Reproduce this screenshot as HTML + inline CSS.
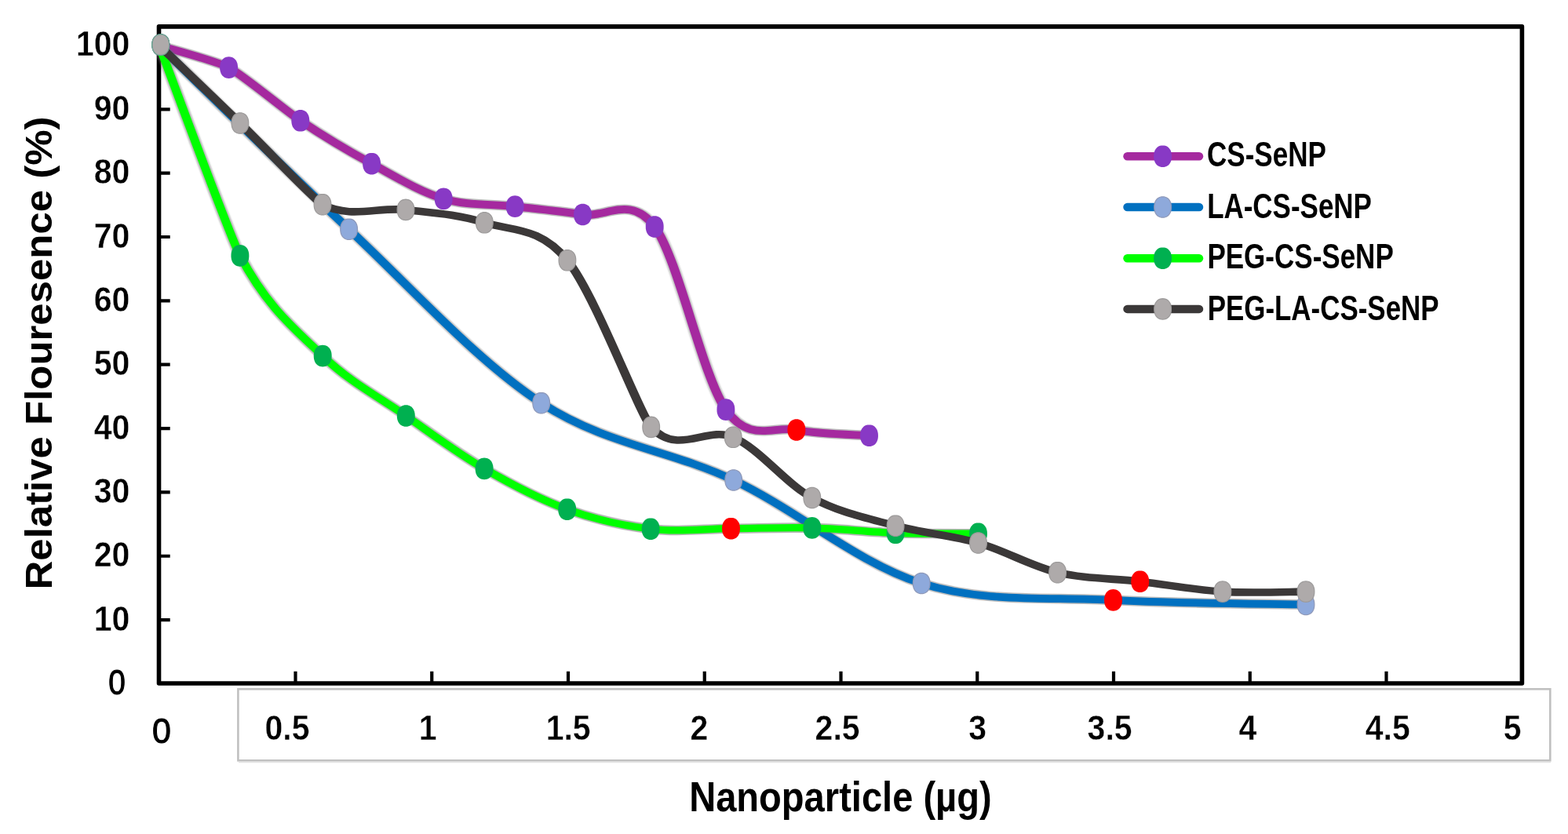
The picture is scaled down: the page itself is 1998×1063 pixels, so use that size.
<!DOCTYPE html><html><head><meta charset="utf-8"><style>html,body{margin:0;padding:0;background:#fff;overflow:hidden}svg{display:block}text{font-family:"Liberation Sans",sans-serif;font-size:100px;fill:#000}</style></head><body>
<svg width="1998" height="1063" viewBox="0 0 1998 1063">
<rect width="1998" height="1063" fill="#fff"/>
<rect x="303.4" y="878.3" width="1671.9" height="91" fill="none" stroke="#c0c0c0" stroke-width="2.6"/>
<line x1="304" y1="971.6" x2="1976" y2="971.6" stroke="#e2e2e2" stroke-width="1.5"/>
<path d="M202.5 790.10H216.7 M202.5 708.75H216.7 M202.5 627.40H216.7 M202.5 546.05H216.7 M202.5 464.70H216.7 M202.5 383.35H216.7 M202.5 302.00H216.7 M202.5 220.65H216.7 M202.5 139.30H216.7 M202.5 57.95H216.7 M376.50 871V855.8 M550.25 871V855.8 M724.00 871V855.8 M897.75 871V855.8 M1071.50 871V855.8 M1245.25 871V855.8 M1419.00 871V855.8 M1592.75 871V855.8 M1766.50 871V855.8" stroke="#000" stroke-width="4.2" fill="none"/>
<rect x="202.5" y="33.9" width="1736.9" height="837.1" fill="none" stroke="#000" stroke-width="5.6" stroke-linejoin="round"/>
<defs><filter id="hb" x="-5%" y="-5%" width="110%" height="110%"><feGaussianBlur stdDeviation="0.9"/></filter><path id="mk0" d="M11.45 0.00 L11.36 2.17 L11.09 4.04 L10.65 5.76 L10.05 7.35 L9.28 8.79 L8.36 10.07 L7.29 11.18 L6.10 12.11 L4.78 12.84 L3.35 13.37 L1.80 13.69 L0.00 13.80 L-1.80 13.69 L-3.35 13.37 L-4.78 12.84 L-6.10 12.11 L-7.29 11.18 L-8.36 10.07 L-9.28 8.79 L-10.05 7.35 L-10.65 5.76 L-11.09 4.04 L-11.36 2.17 L-11.45 0.00 L-11.36 -2.17 L-11.09 -4.04 L-10.65 -5.76 L-10.05 -7.35 L-9.28 -8.79 L-8.36 -10.07 L-7.29 -11.18 L-6.10 -12.11 L-4.78 -12.84 L-3.35 -13.37 L-1.80 -13.69 L-0.00 -13.80 L1.80 -13.69 L3.35 -13.37 L4.78 -12.84 L6.10 -12.11 L7.29 -11.18 L8.36 -10.07 L9.28 -8.79 L10.05 -7.35 L10.65 -5.76 L11.09 -4.04 L11.36 -2.17Z"/><path id="mk1" d="M10.85 0.00 L10.77 2.07 L10.51 3.86 L10.10 5.51 L9.52 7.03 L8.79 8.41 L7.92 9.63 L6.91 10.69 L5.78 11.58 L4.53 12.28 L3.18 12.79 L1.70 13.10 L0.00 13.20 L-1.70 13.10 L-3.18 12.79 L-4.53 12.28 L-5.78 11.58 L-6.91 10.69 L-7.92 9.63 L-8.79 8.41 L-9.52 7.03 L-10.10 5.51 L-10.51 3.86 L-10.77 2.07 L-10.85 0.00 L-10.77 -2.07 L-10.51 -3.86 L-10.10 -5.51 L-9.52 -7.03 L-8.79 -8.41 L-7.92 -9.63 L-6.91 -10.69 L-5.78 -11.58 L-4.53 -12.28 L-3.18 -12.79 L-1.70 -13.10 L-0.00 -13.20 L1.70 -13.10 L3.18 -12.79 L4.53 -12.28 L5.78 -11.58 L6.91 -10.69 L7.92 -9.63 L8.79 -8.41 L9.52 -7.03 L10.10 -5.51 L10.51 -3.86 L10.77 -2.07Z"/></defs>
<g transform="matrix(1 0 0 0.85 0 0)">
<path d="M202.90 68.24 C217.68 73.75 276.61 91.90 291.60 101.29 C309.59 112.56 364.60 166.52 382.80 180.94 C407.07 200.17 443.20 226.00 473.60 245.53 C504.00 265.06 534.77 287.45 565.20 298.12 C595.63 308.78 626.65 305.59 656.20 309.53 C685.75 313.47 712.83 316.69 742.50 321.76 C772.17 326.84 803.80 291.25 834.20 340.00 C864.60 388.75 894.78 563.45 924.90 614.24 C955.02 665.02 984.47 638.22 1014.90 644.71 C1045.33 651.20 1092.07 651.76 1107.50 653.18" fill="none" stroke="#6a6a6a" stroke-opacity="0.45" stroke-width="15.0" stroke-linecap="round" stroke-linejoin="round" filter="url(#hb)"/>
<path d="M202.90 68.24 C217.68 73.75 276.61 91.90 291.60 101.29 C309.59 112.56 364.60 166.52 382.80 180.94 C407.07 200.17 443.20 226.00 473.60 245.53 C504.00 265.06 534.77 287.45 565.20 298.12 C595.63 308.78 626.65 305.59 656.20 309.53 C685.75 313.47 712.83 316.69 742.50 321.76 C772.17 326.84 803.80 291.25 834.20 340.00 C864.60 388.75 894.78 563.45 924.90 614.24 C955.02 665.02 984.47 638.22 1014.90 644.71 C1045.33 651.20 1092.07 651.76 1107.50 653.18" fill="none" stroke="#A5299F" stroke-width="11.5" stroke-linecap="round" stroke-linejoin="round"/>
</g>
<use href="#mk0" x="204.80" y="57.10" fill="#8839C5"/>
<use href="#mk0" x="291.60" y="86.10" fill="#8839C5"/>
<use href="#mk0" x="382.80" y="153.80" fill="#8839C5"/>
<use href="#mk0" x="473.60" y="208.70" fill="#8839C5"/>
<use href="#mk0" x="565.20" y="253.40" fill="#8839C5"/>
<use href="#mk0" x="656.20" y="263.10" fill="#8839C5"/>
<use href="#mk0" x="742.50" y="273.50" fill="#8839C5"/>
<use href="#mk0" x="834.20" y="289.00" fill="#8839C5"/>
<use href="#mk0" x="924.90" y="522.10" fill="#8839C5"/>
<use href="#mk0" x="1014.90" y="548.00" fill="#FF0000"/>
<use href="#mk0" x="1107.50" y="555.20" fill="#8839C5"/>
<g transform="matrix(1 0 0 0.85 0 0)">
<path d="M202.90 68.24 C243.18 114.16 363.47 254.41 444.60 343.76 C525.73 433.12 608.02 541.65 689.70 604.35 C771.38 667.06 853.95 674.94 934.70 720.00 C1015.45 765.06 1093.57 844.73 1174.20 874.71 C1254.83 904.69 1336.87 894.59 1418.50 899.88 C1500.13 905.18 1623.08 905.37 1664.00 906.47" fill="none" stroke="#6a6a6a" stroke-opacity="0.45" stroke-width="14.9" stroke-linecap="round" stroke-linejoin="round" filter="url(#hb)"/>
<path d="M202.90 68.24 C243.18 114.16 363.47 254.41 444.60 343.76 C525.73 433.12 608.02 541.65 689.70 604.35 C771.38 667.06 853.95 674.94 934.70 720.00 C1015.45 765.06 1093.57 844.73 1174.20 874.71 C1254.83 904.69 1336.87 894.59 1418.50 899.88 C1500.13 905.18 1623.08 905.37 1664.00 906.47" fill="none" stroke="#0070C0" stroke-width="11.4" stroke-linecap="round" stroke-linejoin="round"/>
</g>
<use href="#mk1" x="204.80" y="57.10" fill="#8EA9DB" stroke="#8E98B8" stroke-width="1.2"/>
<use href="#mk1" x="444.60" y="292.20" fill="#8EA9DB" stroke="#8E98B8" stroke-width="1.2"/>
<use href="#mk1" x="689.70" y="513.70" fill="#8EA9DB" stroke="#8E98B8" stroke-width="1.2"/>
<use href="#mk1" x="934.70" y="612.00" fill="#8EA9DB" stroke="#8E98B8" stroke-width="1.2"/>
<use href="#mk1" x="1174.20" y="743.50" fill="#8EA9DB" stroke="#8E98B8" stroke-width="1.2"/>
<use href="#mk0" x="1418.50" y="764.90" fill="#FF0000"/>
<use href="#mk1" x="1664.00" y="770.50" fill="#8EA9DB" stroke="#8E98B8" stroke-width="1.2"/>
<g transform="matrix(1 0 0 0.85 0 0)">
<path d="M202.90 68.24 C220.07 120.76 292.01 352.38 305.90 383.41 C340.62 460.98 375.97 493.63 411.20 533.65 C446.43 573.67 482.98 595.33 517.30 623.53 C551.62 651.73 582.87 679.45 617.10 702.82 C651.33 726.20 687.37 748.71 722.70 763.76 C758.03 778.82 794.30 788.37 829.10 793.18 C863.90 797.98 897.22 792.84 931.50 792.59 C965.78 792.33 999.87 790.55 1034.80 791.65 C1069.73 792.75 1105.82 797.75 1141.10 799.18 C1176.38 800.61 1228.93 800.06 1246.50 800.24" fill="none" stroke="#6a6a6a" stroke-opacity="0.5" stroke-width="14.8" stroke-linecap="round" stroke-linejoin="round" filter="url(#hb)"/>
<path d="M202.90 68.24 C220.07 120.76 292.01 352.38 305.90 383.41 C340.62 460.98 375.97 493.63 411.20 533.65 C446.43 573.67 482.98 595.33 517.30 623.53 C551.62 651.73 582.87 679.45 617.10 702.82 C651.33 726.20 687.37 748.71 722.70 763.76 C758.03 778.82 794.30 788.37 829.10 793.18 C863.90 797.98 897.22 792.84 931.50 792.59 C965.78 792.33 999.87 790.55 1034.80 791.65 C1069.73 792.75 1105.82 797.75 1141.10 799.18 C1176.38 800.61 1228.93 800.06 1246.50 800.24" fill="none" stroke="#00FF00" stroke-width="10.8" stroke-linecap="round" stroke-linejoin="round"/>
</g>
<use href="#mk0" x="204.80" y="57.10" fill="#00B050"/>
<use href="#mk0" x="305.90" y="325.90" fill="#00B050"/>
<use href="#mk0" x="411.20" y="453.60" fill="#00B050"/>
<use href="#mk0" x="517.30" y="530.00" fill="#00B050"/>
<use href="#mk0" x="617.10" y="597.40" fill="#00B050"/>
<use href="#mk0" x="722.70" y="649.20" fill="#00B050"/>
<use href="#mk0" x="829.10" y="674.20" fill="#00B050"/>
<use href="#mk0" x="931.50" y="673.70" fill="#FF0000"/>
<use href="#mk0" x="1034.80" y="672.90" fill="#00B050"/>
<use href="#mk0" x="1141.10" y="679.30" fill="#00B050"/>
<use href="#mk0" x="1246.50" y="680.20" fill="#00B050"/>
<g transform="matrix(1 0 0 0.85 0 0)">
<path d="M202.90 68.24 C220.07 87.65 271.22 144.96 305.90 184.71 C340.58 224.45 400.44 300.21 411.00 306.71 C446.18 328.35 482.62 310.06 517.00 314.59 C551.38 319.12 582.98 321.25 617.30 333.88 C651.62 346.51 687.50 339.25 722.90 390.35 C758.30 441.45 815.61 622.78 829.70 640.47 C864.92 684.69 900.02 637.98 934.20 655.65 C968.38 673.31 1000.32 724.33 1034.80 746.47 C1069.28 768.61 1105.82 777.20 1141.10 788.47 C1176.38 799.75 1212.08 802.45 1246.50 814.12 C1280.92 825.78 1313.23 848.82 1347.60 858.47 C1381.97 868.12 1417.65 867.22 1452.70 872.00 C1487.75 876.78 1522.68 884.65 1557.90 887.18 C1593.12 889.71 1646.32 887.18 1664.00 887.18" fill="none" stroke="#3B3838" stroke-width="11.3" stroke-linecap="round" stroke-linejoin="round"/>
</g>
<use href="#mk1" x="204.80" y="57.10" fill="#AEAAAA" stroke="#7aa096" stroke-width="1.2"/>
<use href="#mk1" x="305.90" y="157.00" fill="#AEAAAA" stroke="#9C9A9A" stroke-width="1.2"/>
<use href="#mk1" x="411.00" y="260.70" fill="#AEAAAA" stroke="#9C9A9A" stroke-width="1.2"/>
<use href="#mk1" x="517.00" y="267.40" fill="#AEAAAA" stroke="#9C9A9A" stroke-width="1.2"/>
<use href="#mk1" x="617.30" y="283.80" fill="#AEAAAA" stroke="#9C9A9A" stroke-width="1.2"/>
<use href="#mk1" x="722.90" y="331.80" fill="#AEAAAA" stroke="#9C9A9A" stroke-width="1.2"/>
<use href="#mk1" x="829.70" y="544.40" fill="#AEAAAA" stroke="#9C9A9A" stroke-width="1.2"/>
<use href="#mk1" x="934.20" y="557.30" fill="#AEAAAA" stroke="#9C9A9A" stroke-width="1.2"/>
<use href="#mk1" x="1034.80" y="634.50" fill="#AEAAAA" stroke="#9C9A9A" stroke-width="1.2"/>
<use href="#mk1" x="1141.10" y="670.20" fill="#AEAAAA" stroke="#9C9A9A" stroke-width="1.2"/>
<use href="#mk1" x="1246.50" y="692.00" fill="#AEAAAA" stroke="#9C9A9A" stroke-width="1.2"/>
<use href="#mk1" x="1347.60" y="729.70" fill="#AEAAAA" stroke="#9C9A9A" stroke-width="1.2"/>
<use href="#mk0" x="1452.70" y="741.20" fill="#FF0000"/>
<use href="#mk1" x="1557.90" y="754.10" fill="#AEAAAA" stroke="#9C9A9A" stroke-width="1.2"/>
<use href="#mk1" x="1664.00" y="754.10" fill="#AEAAAA" stroke="#9C9A9A" stroke-width="1.2"/>
<text transform="matrix(0.41000 0 0 0.44100 165.34 803.61)" font-weight="bold" text-anchor="end" stroke="#fff" stroke-width="0.8">10</text>
<text transform="matrix(0.41000 0 0 0.44100 165.34 722.26)" font-weight="bold" text-anchor="end" stroke="#fff" stroke-width="0.8">20</text>
<text transform="matrix(0.41000 0 0 0.44100 165.34 640.91)" font-weight="bold" text-anchor="end" stroke="#fff" stroke-width="0.8">30</text>
<text transform="matrix(0.41000 0 0 0.44100 165.34 559.56)" font-weight="bold" text-anchor="end" stroke="#fff" stroke-width="0.8">40</text>
<text transform="matrix(0.41000 0 0 0.44100 165.34 478.21)" font-weight="bold" text-anchor="end" stroke="#fff" stroke-width="0.8">50</text>
<text transform="matrix(0.41000 0 0 0.44100 165.34 396.86)" font-weight="bold" text-anchor="end" stroke="#fff" stroke-width="0.8">60</text>
<text transform="matrix(0.41000 0 0 0.44100 165.34 315.51)" font-weight="bold" text-anchor="end" stroke="#fff" stroke-width="0.8">70</text>
<text transform="matrix(0.41000 0 0 0.44100 165.34 234.16)" font-weight="bold" text-anchor="end" stroke="#fff" stroke-width="0.8">80</text>
<text transform="matrix(0.41000 0 0 0.44100 165.34 152.81)" font-weight="bold" text-anchor="end" stroke="#fff" stroke-width="0.8">90</text>
<text transform="matrix(0.41000 0 0 0.44100 165.34 71.46)" font-weight="bold" text-anchor="end" stroke="#fff" stroke-width="0.8">100</text>
<text transform="matrix(0.38750 0 0 0.43662 149.00 884.66)" font-weight="normal" text-anchor="middle" stroke="#000" stroke-width="2.4">0</text>
<text transform="matrix(0.41000 0 0 0.44100 365.95 943.47)" font-weight="bold" text-anchor="middle" stroke="#fff" stroke-width="0.8">0.5</text>
<text transform="matrix(0.41000 0 0 0.44100 545.25 943.47)" font-weight="bold" text-anchor="middle" stroke="#fff" stroke-width="0.8">1</text>
<text transform="matrix(0.41000 0 0 0.44100 724.15 943.47)" font-weight="bold" text-anchor="middle" stroke="#fff" stroke-width="0.8">1.5</text>
<text transform="matrix(0.41000 0 0 0.44100 891.00 943.47)" font-weight="bold" text-anchor="middle" stroke="#fff" stroke-width="0.8">2</text>
<text transform="matrix(0.41000 0 0 0.44100 1067.10 943.47)" font-weight="bold" text-anchor="middle" stroke="#fff" stroke-width="0.8">2.5</text>
<text transform="matrix(0.41000 0 0 0.44100 1245.70 943.47)" font-weight="bold" text-anchor="middle" stroke="#fff" stroke-width="0.8">3</text>
<text transform="matrix(0.41000 0 0 0.44100 1414.10 943.47)" font-weight="bold" text-anchor="middle" stroke="#fff" stroke-width="0.8">3.5</text>
<text transform="matrix(0.41000 0 0 0.44100 1590.00 943.47)" font-weight="bold" text-anchor="middle" stroke="#fff" stroke-width="0.8">4</text>
<text transform="matrix(0.41000 0 0 0.44100 1768.25 943.47)" font-weight="bold" text-anchor="middle" stroke="#fff" stroke-width="0.8">4.5</text>
<text transform="matrix(0.41000 0 0 0.44100 1927.20 943.47)" font-weight="bold" text-anchor="middle" stroke="#fff" stroke-width="0.8">5</text>
<text transform="matrix(0.42917 0 0 0.43803 205.90 947.36)" font-weight="normal" text-anchor="middle" stroke="#000" stroke-width="2.4">0</text>
<text transform="matrix(0.47096 0 0 0.53913 878.14 1034.10)" font-weight="bold" text-anchor="start">Nanoparticle (µg)</text>
<text transform="matrix(0 -0.50934 0.48551 0 66.10 751.41)" font-weight="bold" text-anchor="start">Relative Flouresence (%)</text>
<line x1="1436.5" y1="199.20" x2="1528" y2="199.20" stroke="#A5299F" stroke-width="10.5" stroke-linecap="round"/>
<use href="#mk0" x="1481.60" y="199.20" fill="#8839C5"/>
<line x1="1436.5" y1="264.00" x2="1528" y2="264.00" stroke="#0070C0" stroke-width="10.5" stroke-linecap="round"/>
<use href="#mk1" x="1481.60" y="264.00" fill="#8EA9DB" stroke="#8E98B8" stroke-width="1.2"/>
<line x1="1436.5" y1="329.20" x2="1528" y2="329.20" stroke="#00FF00" stroke-width="10.5" stroke-linecap="round"/>
<use href="#mk0" x="1481.60" y="329.20" fill="#00B050"/>
<line x1="1436.5" y1="393.90" x2="1528" y2="393.90" stroke="#3B3838" stroke-width="10.5" stroke-linecap="round"/>
<use href="#mk1" x="1481.60" y="393.90" fill="#AEAAAA" stroke="#9C9A9A" stroke-width="1.2"/>
<text transform="matrix(0.35047 0 0 0.43944 1538.00 212.16)" font-weight="bold" text-anchor="start">CS-SeNP</text>
<text transform="matrix(0.34966 0 0 0.44648 1538.13 277.75)" font-weight="bold" text-anchor="start">LA-CS-SeNP</text>
<text transform="matrix(0.35015 0 0 0.44225 1538.42 342.16)" font-weight="bold" text-anchor="start">PEG-CS-SeNP</text>
<text transform="matrix(0.34931 0 0 0.44507 1538.63 407.55)" font-weight="bold" text-anchor="start">PEG-LA-CS-SeNP</text>
</svg></body></html>
